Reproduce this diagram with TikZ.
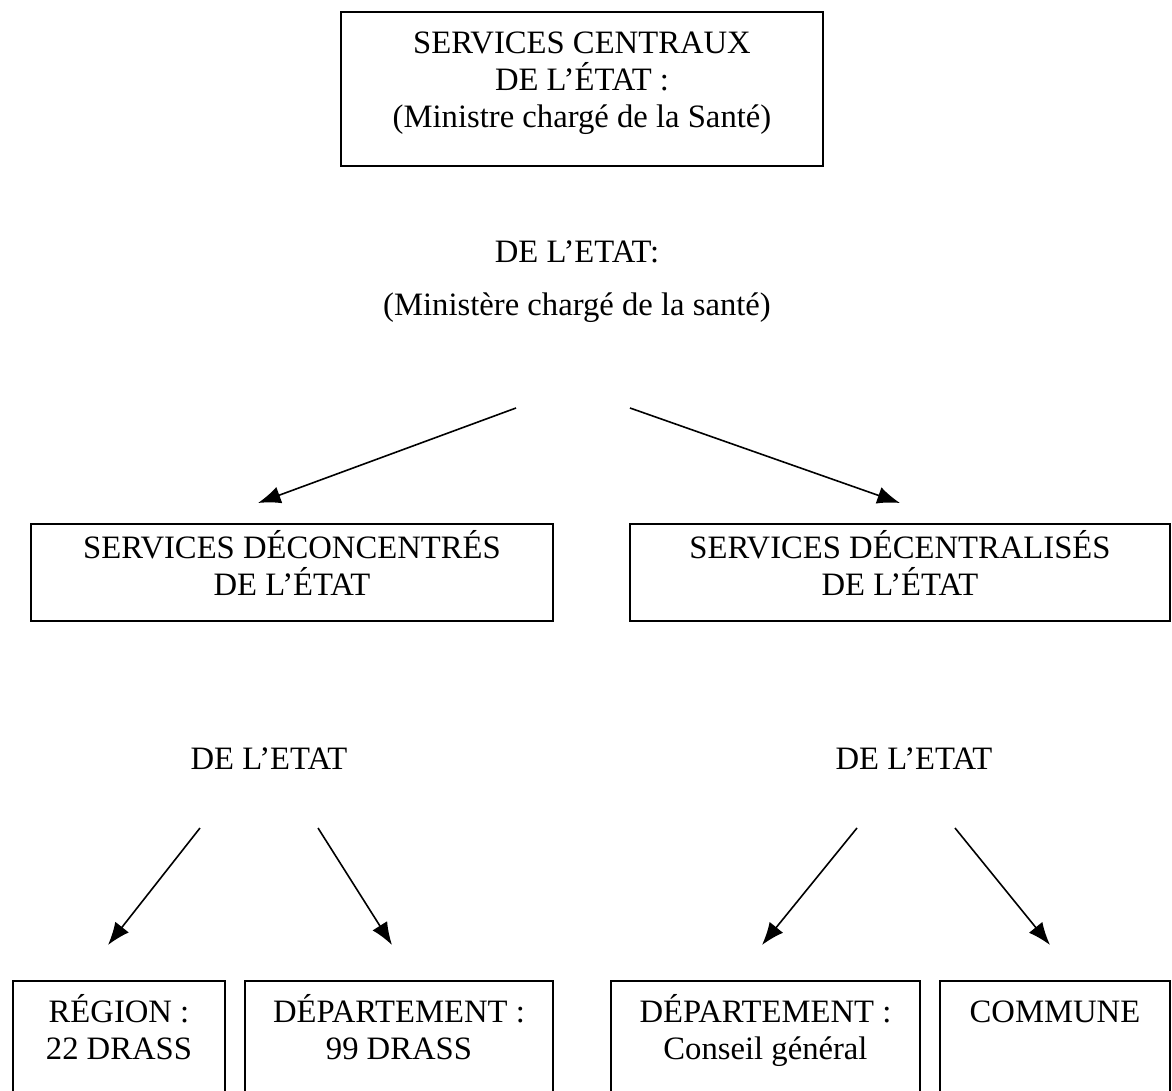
\documentclass[tikz,border=0pt]{standalone}
\usepackage{fontspec}
\setmainfont{Liberation Serif}
\usetikzlibrary{arrows.meta}

\tikzset{every picture/.style={line width=1.2pt}}
\tikzset{
  orgbox/.style={draw, align=center, anchor=north, inner xsep=0pt, inner ysep=0pt},
  orgtext/.style={align=center},
  orgarrow/.style={-{Latex[length=17pt,width=13pt]}}
}

\begin{document}
\begin{tikzpicture}[x=0.75pt,y=0.75pt,yscale=-1,xscale=1]
	\useasboundingbox (0,0) rectangle (1172,1091);
	\fontsize{24.5}{27.75}\selectfont

	%Shape: Rectangle [central]
	\node (central) [orgbox, minimum width=361.5pt, text height=87pt, text depth=28.5pt] at (582,11) {SERVICES CENTRAUX\\DE L’ÉTAT :\\(Ministre chargé de la Santé)};

	% Text Node
	\node (etat) [orgtext] at (577,252) {DE L’ETAT:};
	% Text Node
	\node (ministere) [orgtext] at (577,308) {(Ministère chargé de la santé)};

	%Shape: Rectangle [deconc]
	\node (deconc) [orgbox, minimum width=391.5pt, text height=54pt, text depth=18.75pt] at (292,523) {SERVICES DÉCONCENTRÉS\\DE L’ÉTAT};
	%Shape: Rectangle [decent]
	\node (decent) [orgbox, minimum width=405pt, text height=54pt, text depth=18.75pt] at (900,523) {SERVICES DÉCENTRALISÉS\\DE L’ÉTAT};

	% Text Node
	\node (etatL) [orgtext] at (269,759) {DE L’ETAT};
	% Text Node
	\node (etatR) [orgtext] at (914,759) {DE L’ETAT};

	%Shape: Rectangle [region]
	\node (region) [orgbox, minimum width=159pt, text height=59.25pt, text depth=30.75pt] at (119,980) {RÉGION :\\22 DRASS};
	%Shape: Rectangle [deptL]
	\node (deptL) [orgbox, minimum width=231pt, text height=59.25pt, text depth=30.75pt] at (399,980) {DÉPARTEMENT :\\99 DRASS};
	%Shape: Rectangle [deptR]
	\node (deptR) [orgbox, minimum width=231.75pt, text height=59.25pt, text depth=30.75pt] at (765.5,980) {DÉPARTEMENT :\\Conseil général};
	%Shape: Rectangle [commune]
	\node (commune) [orgbox, minimum width=172.5pt, text height=31.5pt, text depth=58.5pt] at (1055,980) {COMMUNE};

	% arrow ends
	\coordinate (a1) at (516,408);
	\coordinate (b1) at (258,503);
	\coordinate (a2) at (630,408);
	\coordinate (b2) at (900,503);
	\coordinate (a3) at (200,828);
	\coordinate (b3) at (108,945);
	\coordinate (a4) at (318,828);
	\coordinate (b4) at (392,945);
	\coordinate (a5) at (857,828);
	\coordinate (b5) at (762,945);
	\coordinate (a6) at (955,828);
	\coordinate (b6) at (1050,945);

	%Straight Lines
	\draw [orgarrow] (a1) -- (b1);
	\draw [orgarrow] (a2) -- (b2);
	%Straight Lines
	\draw [orgarrow] (a3) -- (b3);
	\draw [orgarrow] (a4) -- (b4);
	\draw [orgarrow] (a5) -- (b5);
	\draw [orgarrow] (a6) -- (b6);

\end{tikzpicture}
\end{document}
